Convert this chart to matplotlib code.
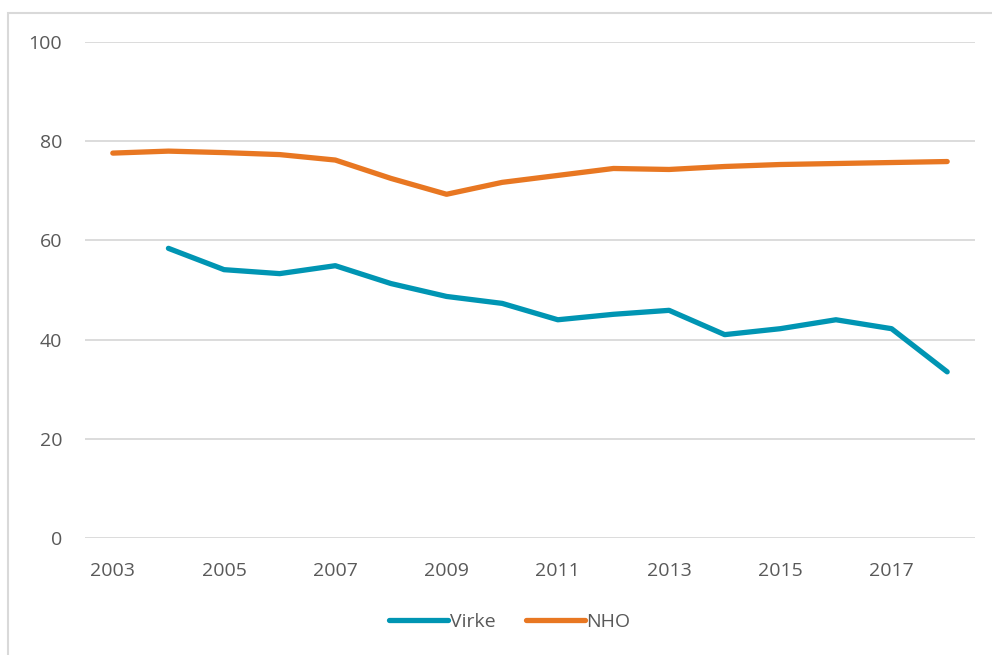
import matplotlib
matplotlib.use("Agg")
import matplotlib.pyplot as plt
from matplotlib.patches import Rectangle

years = list(range(2003, 2019))
virke_years = list(range(2004, 2019))
virke = [58.4, 54.1, 53.3, 54.9, 51.3, 48.7, 47.3, 44.0, 45.1, 45.9, 41.0, 42.2, 44.0, 42.2, 33.5]
nho = [77.6, 78.0, 77.7, 77.3, 76.2, 72.5, 69.3, 71.7, 73.1, 74.5, 74.3, 74.9, 75.3, 75.5, 75.7, 75.9]
xticks = [2003, 2005, 2007, 2009, 2011, 2013, 2015, 2017]
yticks = [0, 20, 40, 60, 80, 100]

plt.rcParams['font.family'] = ['Open Sans', 'DejaVu Sans']
W, H = 992, 655
fig = plt.figure(figsize=(W/100, H/100), dpi=100)
fig.patches.append(Rectangle((8/W, -0.1), 1.2, 1 - 13/H + 0.1, transform=fig.transFigure,
                             fill=False, edgecolor='#d9d9d9', linewidth=1.5))
ax = fig.add_axes([85/W, 1 - 538/H, 890/W, 496/H])
teal = '#0095B3'
orange = '#E87722'
ax.plot(virke_years, virke, color=teal, lw=3.8, solid_capstyle='round', solid_joinstyle='round', label='Virke', zorder=3)
ax.plot(years, nho, color=orange, lw=3.8, solid_capstyle='round', solid_joinstyle='round', label='NHO', zorder=3)
ax.set_xlim(2002.5, 2018.5)
ax.set_ylim(0, 100)
ax.set_yticks(yticks)
ax.set_xticks(xticks)
ax.grid(axis='y', color='#d9d9d9', lw=1.3)
ax.set_axisbelow(True)
for s in ax.spines.values():
    s.set_visible(False)
ax.tick_params(length=0, labelsize=14, labelcolor='#595959')
ax.tick_params(axis='y', pad=16.5)
ax.tick_params(axis='x', pad=17)
leg = fig.legend(loc='center', bbox_to_anchor=(510/W, 1 - 622/H), ncol=2, frameon=False,
                 fontsize=14, handlelength=3.0, handletextpad=0.1, columnspacing=1.6,
                 labelcolor='#595959')
fig.savefig('out.png', dpi=100)
